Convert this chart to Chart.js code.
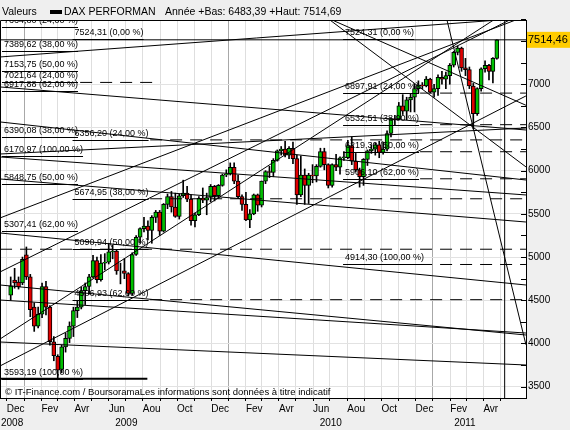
<!DOCTYPE html>
<html>
<head>
<meta charset="utf-8">
<script src="https://cdn.jsdelivr.net/npm/chart.js@4.4.0/dist/chart.umd.min.js"></script>
<style>
  html, body { margin: 0; padding: 0; background: #efefef; }
</style>
</head>
<body>
<canvas id="graph" width="570" height="430"></canvas>
<script>
// weekly candles (monday of each week)
const weekDates = [
  '2008-12-08','2008-12-15','2008-12-22','2008-12-29',
  '2009-01-05','2009-01-12','2009-01-19','2009-01-26','2009-02-02','2009-02-09','2009-02-16','2009-02-23',
  '2009-03-02','2009-03-09','2009-03-16','2009-03-23','2009-03-30','2009-04-06','2009-04-13','2009-04-20',
  '2009-04-27','2009-05-04','2009-05-11','2009-05-18','2009-05-25','2009-06-01','2009-06-08','2009-06-15',
  '2009-06-22','2009-06-29','2009-07-06','2009-07-13','2009-07-20','2009-07-27','2009-08-03','2009-08-10',
  '2009-08-17','2009-08-24','2009-08-31','2009-09-07','2009-09-14','2009-09-21','2009-09-28','2009-10-05',
  '2009-10-12','2009-10-19','2009-10-26','2009-11-02','2009-11-09','2009-11-16','2009-11-23','2009-11-30',
  '2009-12-07','2009-12-14','2009-12-21','2009-12-28',
  '2010-01-04','2010-01-11','2010-01-18','2010-01-25','2010-02-01','2010-02-08','2010-02-15','2010-02-22',
  '2010-03-01','2010-03-08','2010-03-15','2010-03-22','2010-03-29','2010-04-05','2010-04-12','2010-04-19',
  '2010-04-26','2010-05-03','2010-05-10','2010-05-17','2010-05-24','2010-05-31','2010-06-07','2010-06-14',
  '2010-06-21','2010-06-28','2010-07-05','2010-07-12','2010-07-19','2010-07-26','2010-08-02','2010-08-09',
  '2010-08-16','2010-08-23','2010-08-30','2010-09-06','2010-09-13','2010-09-20','2010-09-27','2010-10-04',
  '2010-10-11','2010-10-18','2010-10-25','2010-11-01','2010-11-08','2010-11-15','2010-11-22','2010-11-29',
  '2010-12-06','2010-12-13','2010-12-20','2010-12-27',
  '2011-01-03','2011-01-10','2011-01-17','2011-01-24','2011-01-31','2011-02-07','2011-02-14','2011-02-21',
  '2011-02-28','2011-03-07','2011-03-14','2011-03-21','2011-03-28','2011-04-04','2011-04-11','2011-04-18',
  '2011-04-25'
];
const opens = [
  4560,4735,4712,4700, 5025,4770,4420,4200,4340,4660,4420,4020,
  3850,3700,3960,4060,4200,4380,4420,4610, 4660,4770,4960,4740,4930,4940,5060,5070,
  4840,4840,4810,4580,5030,5230,5330,5360, 5310,5460,5520,5300,5610,5700,5580,5470,
  5710,5740,5670,5420,5490,5680,5660,5690, 5820,5710,5830,5950,
  5960,6040,5880,5700,5610,5430,5500,5720, 5600,5880,5990,5980,6120,6230,6250,6180,
  6260,6140,5720,5950,5830,5950,5940,6050, 6220,6070,5830,6070,6040,6150,6150,6290,
  6110,6010,5930,6130,6230,6250,6300,6210, 6250,6430,6600,6600,6750,6690,6820,6850,
  6950,6990,6980,7060,
  6910,6950,7080,7060,7100,7220,7370,7420, 7190,7170,6980,6660,6950,7180,7220,7150,
  7300
];
const highs = [
  4770,4870,4770,5000, 5117,4800,4470,4420,4700,4720,4440,4080,
  3870,3980,4120,4250,4420,4500,4650,4700, 4800,5020,5000,5030,5040,5160,5140,5080,
  4930,4980,4820,5050,5250,5340,5460,5420, 5480,5540,5540,5620,5730,5760,5740,5730,
  5890,5820,5720,5510,5700,5800,5740,5840, 5830,5840,5960,6010,
  6090,6090,5950,5720,5750,5550,5730,5730, 5880,6000,6050,6140,6240,6280,6340,6280,
  6330,6180,6170,6020,5970,6070,6070,6260, 6260,6080,6080,6190,6160,6220,6350,6390,
  6200,6030,6140,6240,6300,6320,6340,6330, 6460,6610,6640,6790,6880,6850,6890,7000,
  7040,7020,7090,7070,
  7000,7110,7150,7140,7240,7380,7440,7430, 7300,7200,7010,6960,7190,7270,7230,7310,
  7515
];
const lows = [
  4500,4640,4630,4680, 4740,4310,4140,4180,4300,4330,3980,3800,
  3593,3660,3900,4010,4080,4300,4400,4450, 4570,4760,4700,4720,4850,4920,4980,4800,
  4690,4750,4550,4560,5020,5160,5290,5200, 5160,5400,5250,5290,5560,5520,5460,5440,
  5690,5640,5370,5350,5480,5630,5490,5640, 5650,5680,5820,5930,
  5950,5850,5680,5540,5420,5340,5490,5530, 5580,5850,5920,5930,6110,6180,6160,6140,
  6080,5610,5700,5610,5620,5860,5870,6040, 6010,5800,5810,6000,5960,6120,6140,6070,
  5990,5810,5830,6060,6200,6180,6150,6190, 6230,6390,6530,6590,6650,6590,6680,6680,
  6900,6950,6970,6900,
  6850,6870,7000,6950,7000,7200,7340,7150, 7100,6950,6483,6640,6920,7140,7050,7015,
  7290
];
const closes = [
  4666,4700,4655,4975, 4770,4390,4200,4340,4660,4420,4020,3860,
  3690,3960,4060,4200,4380,4420,4610,4660, 4770,4960,4740,4930,4940,5060,5070,4840,
  4840,4810,4580,5030,5230,5330,5360,5310, 5460,5520,5300,5610,5700,5580,5470,5710,
  5740,5670,5420,5490,5680,5660,5690,5820, 5710,5830,5950,5960,
  6040,5880,5700,5610,5430,5500,5720,5600, 5880,5990,5980,6120,6230,6250,6180,6260,
  6140,5720,5950,5830,5950,5940,6050,6220, 6070,5830,6070,6040,6150,6160,6290,6110,
  6010,5930,6130,6230,6250,6300,6210,6250, 6430,6600,6590,6750,6690,6820,6850,6950,
  6990,6980,7060,6910,
  6950,7080,7060,7100,7220,7370,7420,7190, 7170,6980,6660,6950,7180,7220,7150,7300,
  7514.46
];

// axis ticks
const monthTicks = [
  '2008-12-01','2009-01-01','2009-02-01','2009-03-01','2009-04-01','2009-05-01','2009-06-01','2009-07-01',
  '2009-08-01','2009-09-01','2009-10-01','2009-11-01','2009-12-01','2010-01-01','2010-02-01','2010-03-01',
  '2010-04-01','2010-05-01','2010-06-01','2010-07-01','2010-08-01','2010-09-01','2010-10-01','2010-11-01',
  '2010-12-01','2011-01-01','2011-02-01','2011-03-01','2011-04-01','2011-05-01'
];
const monthLabels = [
  'Dec','','Fev','','Avr','','Jun','','Aou','','Oct','',
  'Dec','','Fev','','Avr','','Jun','','Aou','','Oct','',
  'Dec','','Fev','','Avr',''
];
const yearNames = ['2008','2009','2010','2011'];
const yearStarts = ['2008-01-01','2009-01-01','2010-01-01','2011-01-01'];
const yTicks = [3500,4000,4500,5000,5500,6000,6500,7000];
const lastClose = 7514.46;

// fibonacci levels drawn on the chart
const fibLeftValues = [7664.80,7389.62,7153.75,7021.64,6917.88,6390.08,6170.97,5848.75,5307.41,3593.19];
const fibLeftPcts   = [24,38,50,24,62,38,100,50,62,100];
const fibMidValues  = [7524.31,6356.20,5674.95,5090.94,4506.93];
const fibMidPcts    = [0,24,38,50,62];
const fibRightValues = [7524.31,6897.91,6532.51,6219.30,5906.10,4914.30];
const fibRightPcts   = [0,24,38,50,62,100];
const fibAnchors = ['2008-11-26','2009-04-01','2010-07-28'];

// trend lines: [date, value, date, value]
const trendLines = [
  ['2008-11-19',7316,'2011-06-16',7767],
  ['2008-11-19',6969,'2011-06-16',6471],
  ['2008-11-19',6564,'2011-06-16',5892],
  ['2008-11-19',6193,'2011-06-16',6494],
  ['2008-11-19',6159,'2011-06-16',5719],
  ['2008-11-19',5904,'2011-06-16',5406],
  ['2008-11-19',5279,'2011-06-16',4677],
  ['2008-11-19',4677,'2011-06-16',4098],
  ['2008-11-19',4503,'2011-06-16',4121],
  ['2008-11-19',4017,'2011-06-16',3751],
  ['2008-11-19',5453,'2011-06-16',7790],
  ['2008-11-19',4828,'2011-06-16',7837],
  ['2008-11-19',3740,'2011-06-16',6865],
  ['2008-11-19',4052,'2011-06-16',7986],
  ['2010-07-01',7744,'2011-06-16',6044],
  ['2011-01-26',7744,'2011-06-16',3985],
  ['2010-07-05',7744,'2011-06-16',6757]
];
// dashed levels: [value, from, to]
const dashedLevels = [
  [7021.64,'2009-04-11','2009-09-01'],
  [6897.91,'2010-12-09','2011-06-16'],
  [6532.51,'2010-12-09','2011-06-16'],
  [6356.20,'2009-08-14','2011-06-16'],
  [6219.30,'2010-12-09','2011-06-16'],
  [5906.10,'2010-12-09','2011-06-16'],
  [5674.95,'2009-08-14','2011-06-16'],
  [5090.94,'2008-11-19','2011-06-16'],
  [4914.30,'2010-12-09','2011-06-16'],
  [4506.93,'2009-08-14','2011-06-16']
];
const markerDate = '2011-05-09';

const day0 = Date.UTC(2008, 11, 1);
function toDay(s) {
  const p = s.split('-').map(Number);
  return (Date.UTC(p[0], p[1] - 1, p[2]) - day0) / 86400000;
}
function frNum(v) { return v.toFixed(2).replace('.', ','); }

const xMin = -12.1, xMax = 927.1;
const lastDay = toDay(weekDates[weekDates.length - 1]);
const FONT = '"Liberation Sans", Arial, sans-serif';

const datasets = [];
trendLines.forEach(t => {
  datasets.push({
    type: 'line', order: 0, borderColor: '#000', borderWidth: 1, pointRadius: 0,
    data: [{x: toDay(t[0]), y: t[1]}, {x: toDay(t[2]), y: t[3]}]
  });
});
dashedLevels.forEach(d => {
  datasets.push({
    type: 'line', order: 0, borderColor: '#000', borderWidth: 1, pointRadius: 0, borderDash: [12, 8],
    data: [{x: toDay(d[1]), y: d[0]}, {x: toDay(d[2]), y: d[0]}]
  });
});
datasets.push({
  type: 'line', order: 0, borderColor: '#000', borderWidth: 2, pointRadius: 0,
  data: [{x: xMin, y: 3593.19}, {x: toDay('2009-08-09'), y: 3593.19}]
});
datasets.push({
  type: 'line', order: 0, borderColor: '#000', borderWidth: 1, pointRadius: 0,
  data: [{x: xMin, y: lastClose}, {x: xMax, y: lastClose}]
});
datasets.push({
  type: 'line', order: 0, borderColor: '#000', borderWidth: 1, pointRadius: 0,
  data: [{x: toDay(markerDate), y: 3000}, {x: toDay(markerDate), y: 8000}]
});
// candles
datasets.push({
  type: 'bar', order: 2, grouped: false, barThickness: 1,
  backgroundColor: '#000', borderWidth: 0,
  data: weekDates.map((d, i) => ({x: toDay(d), y: [lows[i], highs[i]]}))
});
datasets.push({
  type: 'bar', order: 1, grouped: false, barThickness: 4,
  backgroundColor: opens.map((o, i) => closes[i] >= o ? '#00c000' : '#e00000'),
  borderColor: '#000', borderWidth: 1, borderSkipped: false,
  data: weekDates.map((d, i) => ({x: toDay(d), y: [opens[i], closes[i]]}))
});

const decorations = {
  id: 'decorations',
  beforeDraw(chart) {
    const {ctx, chartArea: a} = chart;
    ctx.save();
    ctx.fillStyle = '#efefef';
    ctx.fillRect(0, 0, chart.width, chart.height);
    ctx.fillStyle = '#fff';
    ctx.fillRect(a.left, a.top, a.right - a.left, a.bottom - a.top);
    ctx.restore();
  },
  afterDatasetsDraw(chart) {
    const {ctx, chartArea: a, scales: {x, y}} = chart;
    ctx.save();
    ctx.beginPath();
    ctx.rect(a.left, a.top, a.right - a.left, a.bottom - a.top);
    ctx.clip();
    ctx.font = '9px ' + FONT;
    ctx.fillStyle = '#000';
    ctx.strokeStyle = '#000';
    ctx.lineWidth = 1;
    ctx.textAlign = 'left';
    ctx.textBaseline = 'bottom';
    const sets = [[fibLeftValues, fibLeftPcts], [fibMidValues, fibMidPcts], [fibRightValues, fibRightPcts]];
    sets.forEach((s, k) => {
      const px = x.getPixelForValue(toDay(fibAnchors[k]));
      s[0].forEach((v, i) => {
        const txt = frNum(v) + ' (' + frNum(s[1][i]) + ' %)';
        const py = Math.round(y.getPixelForValue(v));
        ctx.fillText(txt, px, py - 2);
        const w = ctx.measureText(txt).width;
        ctx.beginPath();
        ctx.moveTo(px - 2, py + 0.5);
        ctx.lineTo(px + w, py + 0.5);
        ctx.stroke();
      });
    });
    // copyright
    ctx.font = '9.5px ' + FONT;
    ctx.textBaseline = 'middle';
    ctx.fillText('\u00a9 IT-Finance.com / BoursoramaLes informations sont donn\u00e9es \u00e0 titre indicatif', 5, 392);
    ctx.restore();
  },
  afterDraw(chart) {
    const {ctx, chartArea: a, scales: {x, y}} = chart;
    ctx.save();
    ctx.strokeStyle = '#000';
    ctx.lineWidth = 1;
    ctx.beginPath();
    ctx.moveTo(a.left + 0.5, a.bottom);
    ctx.lineTo(a.left + 0.5, a.top + 0.5);
    ctx.lineTo(a.right, a.top + 0.5);
    ctx.stroke();
    // minor ticks on the price axis
    for (let v = 3500; v <= 7750; v += 250) {
      const py = Math.round(y.getPixelForValue(v)) + 0.5;
      ctx.beginPath();
      ctx.moveTo(a.right - 5, py);
      ctx.lineTo(a.right, py);
      ctx.stroke();
    }
    // header
    ctx.fillStyle = '#000';
    ctx.font = '10.5px ' + FONT;
    ctx.textBaseline = 'middle';
    ctx.textAlign = 'left';
    ctx.fillText('Valeurs', 2, 12);
    ctx.fillRect(50, 10, 12, 4);
    ctx.fillText('DAX PERFORMAN', 64, 12);
    ctx.fillText('Ann\u00e9e +Bas: 6483,39 +Haut: 7514,69', 165, 12);
    // last price box
    const py = y.getPixelForValue(lastClose);
    ctx.fillStyle = '#ffcc00';
    ctx.fillRect(a.right + 1, py - 8, chart.width - a.right - 1, 16);
    ctx.fillStyle = '#000';
    ctx.font = '11px ' + FONT;
    ctx.fillText(frNum(lastClose), a.right + 2, py);
    // years under the month labels, centred on the part of the year that holds data
    ctx.font = '10px ' + FONT;
    ctx.textAlign = 'center';
    yearNames.forEach((n, i) => {
      const s = Math.max(toDay(yearStarts[i]), xMin);
      const e = Math.min(i + 1 < yearStarts.length ? toDay(yearStarts[i + 1]) : lastDay, lastDay);
      ctx.fillText(n, x.getPixelForValue((s + e) / 2), 423);
    });
    ctx.restore();
  }
};

new Chart(document.getElementById('graph').getContext('2d'), {
  type: 'bar',
  data: { datasets: datasets },
  options: {
    responsive: false,
    animation: false,
    events: [],
    layout: { padding: { top: 20, left: 0, right: 0, bottom: 0 } },
    plugins: { legend: { display: false }, tooltip: { enabled: false } },
    scales: {
      x: {
        type: 'linear', min: xMin, max: xMax, offset: false,
        afterFit: s => { s.height = 32; },
        afterBuildTicks: s => { s.ticks = monthTicks.map(d => ({value: toDay(d)})); },
        grid: {
          offset: false, drawTicks: true, tickLength: 3, tickColor: '#000',
          color: c => (c.tick && monthTicks[c.index] && monthTicks[c.index].slice(5) === '01-01') ? '#a8a8a8' : '#dedede'
        },
        border: { display: true, color: '#000' },
        ticks: {
          autoSkip: false, maxRotation: 0, align: 'start', padding: 2, color: '#000',
          font: { size: 10, family: FONT },
          callback: (v, i) => monthLabels[i]
        }
      },
      y: {
        type: 'linear', position: 'right', min: 3369, max: 7744,
        afterFit: s => { s.width = 44; },
        afterBuildTicks: s => { s.ticks = yTicks.map(v => ({value: v})); },
        grid: { drawTicks: false, color: '#e2e2e2' },
        border: { display: true, color: '#000' },
        ticks: { padding: 2, color: '#000', font: { size: 10, family: FONT }, callback: v => String(v) }
      }
    }
  },
  plugins: [decorations]
});
</script>
</body>
</html>
